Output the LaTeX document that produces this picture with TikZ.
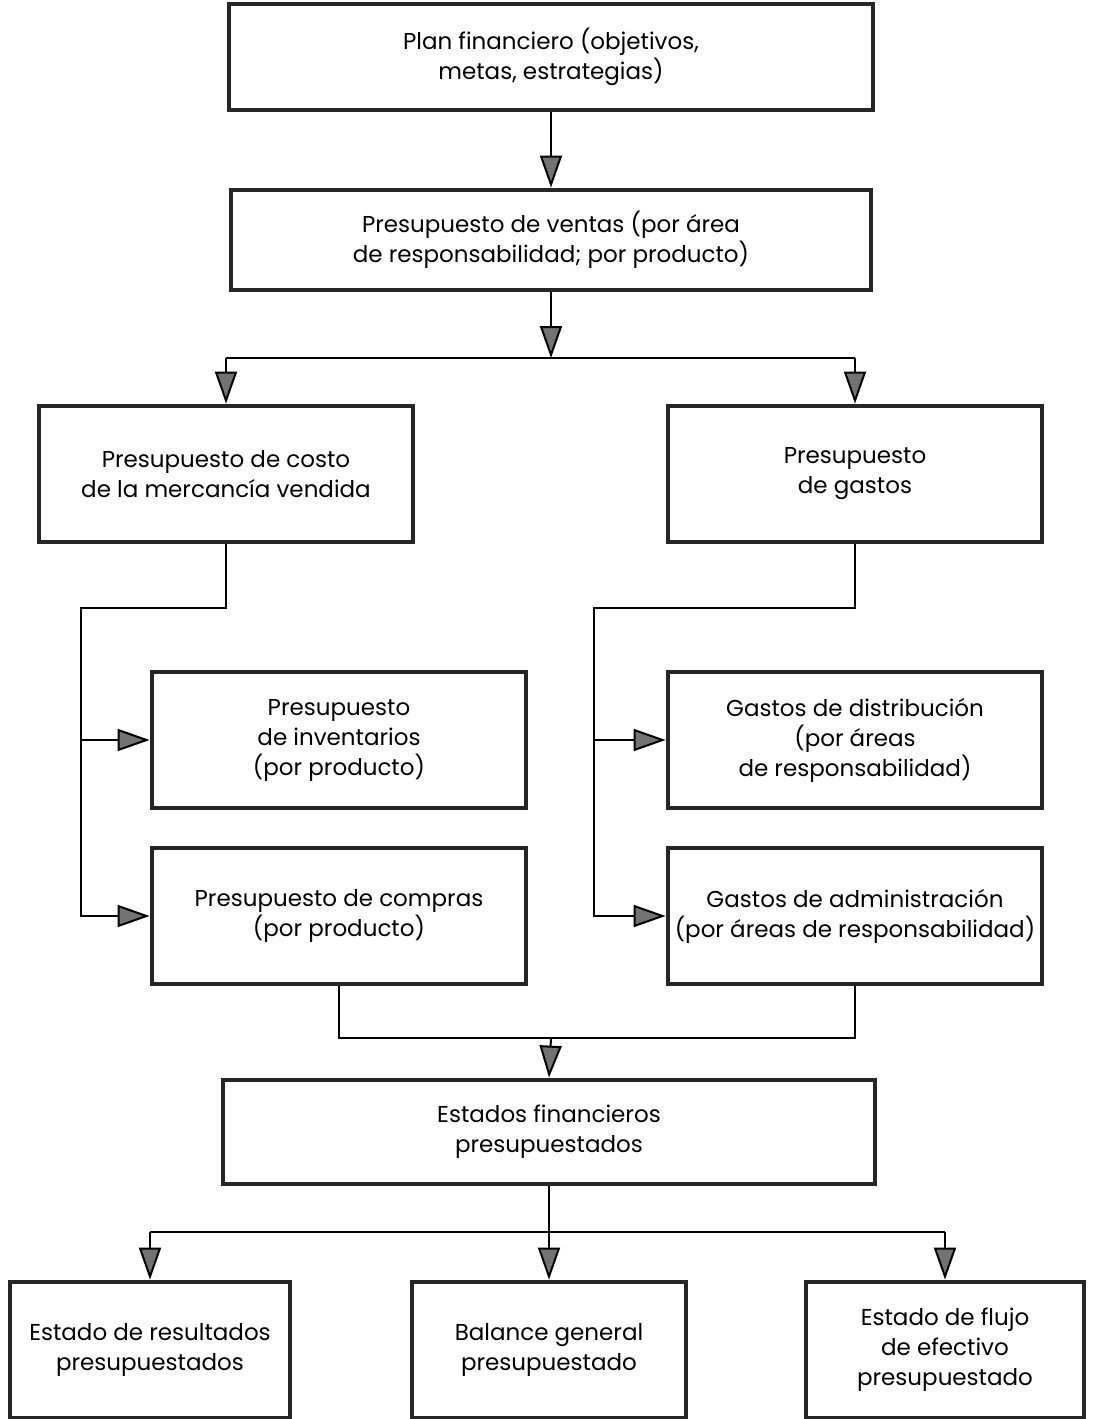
\documentclass[tikz,border=0pt]{standalone}
\usepackage{fontspec}
\setmainfont{Poppins}
\usetikzlibrary{arrows.meta}

\begin{document}
\begin{tikzpicture}[x=0.5pt,y=-0.5pt,
  caja/.style={draw=black!85,line width=2.4pt,fill=white,align=center,
    inner sep=0pt,font=\fontsize{11.5}{15}\selectfont},
  linea/.style={line width=1pt,black},
  flecha/.style={linea,-{Triangle[length=16pt,width=11pt,fill=black!55]}}]
  \useasboundingbox (0,0) rectangle (1096,1419);
  % cajas
  \node[caja,minimum width=322pt,minimum height=53pt] (plan) at (551,57)
    {Plan financiero (objetivos,\\metas, estrategias)};
  \node[caja,minimum width=320pt,minimum height=50pt] (ventas) at (551,240)
    {Presupuesto de ventas (por área\\de responsabilidad; por producto)};
  \node[caja,minimum width=187pt,minimum height=68pt] (costo) at (226,474)
    {Presupuesto de costo\\de la mercancía vendida};
  \node[caja,minimum width=187pt,minimum height=68pt] (gastos) at (855,474)
    {Presupuesto\\de gastos};
  \node[caja,minimum width=187pt,minimum height=68pt] (inventarios) at (339,740)
    {Presupuesto\\de inventarios\\(por producto)};
  \node[caja,minimum width=187pt,minimum height=68pt] (compras) at (339,916)
    {Presupuesto de compras\\(por producto)};
  \node[caja,minimum width=187pt,minimum height=68pt] (distribucion) at (855,740)
    {Gastos de distribución\\(por áreas\\de responsabilidad)};
  \node[caja,minimum width=187pt,minimum height=68pt] (administracion) at (855,916)
    {Gastos de administración\\(por áreas de responsabilidad)};
  \node[caja,minimum width=326pt,minimum height=52pt] (estados) at (549,1132)
    {Estados financieros\\presupuestados};
  \node[caja,minimum width=140pt,minimum height=68pt] (resultados) at (150,1350)
    {Estado de resultados\\presupuestados};
  \node[caja,minimum width=137pt,minimum height=68pt] (balance) at (549,1350)
    {Balance general\\presupuestado};
  \node[caja,minimum width=139pt,minimum height=68pt] (flujo) at (945,1350)
    {Estado de flujo\\de efectivo\\presupuestado};
  % puntos de union
  \coordinate (j1) at (551,358);
  \coordinate (c1) at (81,608);
  \coordinate (g1) at (594,608);
  \coordinate (j2) at (551,1038);
  \coordinate (j3) at (549,1232);
  % conectores
  \draw[flecha] (plan) -- (ventas);
  \draw[flecha] (ventas) -- (j1);
  \draw[linea] (costo.north |- j1) -- (gastos.north |- j1);
  \draw[flecha] (costo.north |- j1) -- (costo.north);
  \draw[flecha] (gastos.north |- j1) -- (gastos.north);
  \draw[flecha] (costo.south) |- (c1) |- (compras.west);
  \draw[flecha] (c1 |- inventarios.west) -- (inventarios.west);
  \draw[flecha] (gastos.south) |- (g1) |- (administracion.west);
  \draw[flecha] (g1 |- distribucion.west) -- (distribucion.west);
  \draw[linea] (compras.south) |- (j2) -| (administracion.south);
  \draw[flecha] (j2) -- (estados.north);
  \draw[flecha] (estados) -- (balance);
  \draw[linea] (resultados.north |- j3) -- (flujo.north |- j3);
  \draw[flecha] (resultados.north |- j3) -- (resultados.north);
  \draw[flecha] (flujo.north |- j3) -- (flujo.north);
\end{tikzpicture}
\end{document}
